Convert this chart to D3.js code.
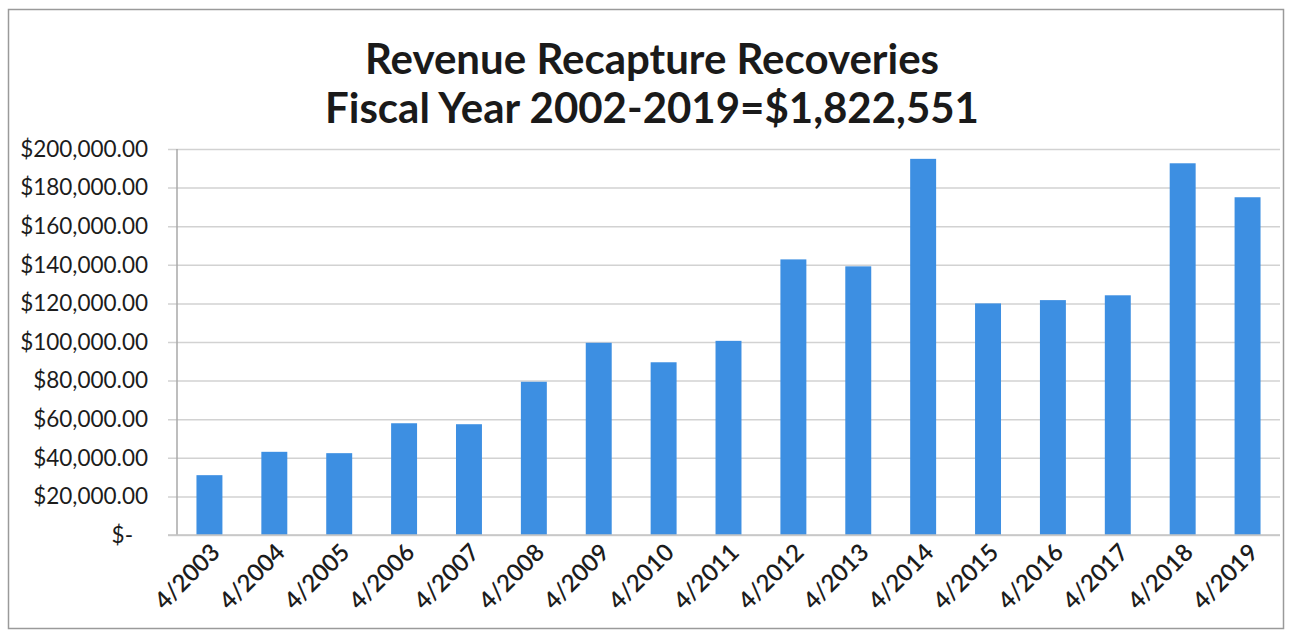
<!DOCTYPE html>
<html lang="en">
<head>
<meta charset="UTF-8">
<title>Revenue Recapture Recoveries</title>
<script src="https://cdn.jsdelivr.net/npm/d3@7"></script>
<style>
  body { margin: 0; background: #fff; }
  text { font-family: Lato, "Open Sans", sans-serif; fill: #1c1c1c; }
</style>
</head>
<body>
<script>

var w = 1289;
var h = 631;

// data
var years = ["4/2003", "4/2004", "4/2005", "4/2006", "4/2007", "4/2008", "4/2009", "4/2010", "4/2011",
             "4/2012", "4/2013", "4/2014", "4/2015", "4/2016", "4/2017", "4/2018", "4/2019"];
var recoveries = [31000, 43100, 42400, 57900, 57400, 79400, 99600, 89500, 100600,
                  142800, 139200, 194900, 120000, 121700, 124200, 192600, 175000];
var yTicks = [0, 20000, 40000, 60000, 80000, 100000, 120000, 140000, 160000, 180000, 200000];
var titleLines = ["Revenue Recapture Recoveries", "Fiscal Year 2002-2019=$1,822,551"];

var margin = {top: 149, right: 9, bottom: 96, left: 177};

var svg = d3.select("body")
    .append("svg")
    .attr("width", w)
    .attr("height", h);

// outer frame
svg.append("rect")
    .attr("x", 8.5)
    .attr("y", 9.5)
    .attr("width", w - 14)
    .attr("height", h - 12)
    .attr("fill", "none")
    .attr("stroke", "#9a9a9a")
    .attr("stroke-width", 1.5);

var x = d3.scaleBand()
    .domain(years)
    .range([margin.left, w - margin.right])
    .paddingInner(0.6)
    .paddingOuter(0.3);

var y = d3.scaleLinear()
    .domain([0, 200000])
    .range([h - margin.bottom, margin.top]);

// gridlines + y labels
var yAxis = d3.axisLeft(y)
    .tickValues(yTicks)
    .tickSize(-(w - margin.right - margin.left))
    .tickPadding(29)
    .tickFormat(function(d) { return d === 0 ? "$-" : d3.format("$,.2f")(d); });

var gy = svg.append("g")
    .attr("transform", "translate(" + margin.left + ",0)")
    .call(yAxis);

gy.select(".domain").remove();
gy.selectAll(".tick line")
    .attr("x1", -9)
    .attr("stroke", "#d2d2d2")
    .attr("stroke-width", 1.5);
gy.selectAll(".tick text")
    .attr("font-size", 22.5)
    .attr("fill", "#1c1c1c")
    .attr("dx", function(d) { return d === 0 ? -15 : 0; });

// left axis line
svg.append("line")
    .attr("x1", margin.left)
    .attr("x2", margin.left)
    .attr("y1", y(200000))
    .attr("y2", y(0))
    .attr("stroke", "#a8a8a8")
    .attr("stroke-width", 1.5);

// bars
svg.selectAll("rect.bar")
    .data(recoveries)
    .enter()
    .append("rect")
    .attr("class", "bar")
    .attr("x", function(d, i) { return x(years[i]); })
    .attr("y", function(d) { return y(d); })
    .attr("width", x.bandwidth())
    .attr("height", function(d) { return y(0) - y(d); })
    .attr("fill", "#3d8fe2");

// baseline
svg.append("line")
    .attr("x1", margin.left - 9)
    .attr("x2", w - margin.right)
    .attr("y1", y(0))
    .attr("y2", y(0))
    .attr("stroke", "#c4c4c4")
    .attr("stroke-width", 1.5);

// x labels, rotated
var xAxis = d3.axisBottom(x).tickSize(0).tickPadding(0);
var gx = svg.append("g")
    .attr("transform", "translate(0," + y(0) + ")")
    .call(xAxis);
gx.select(".domain").remove();
gx.selectAll(".tick text")
    .attr("font-size", 24)
    .attr("font-weight", 600)
    .attr("fill", "#1c1c1c")
    .attr("text-anchor", "end")
    .attr("dy", 0)
    .attr("transform", "translate(12,19) rotate(-45)");

// title
svg.selectAll("text.title")
    .data(titleLines)
    .enter()
    .append("text")
    .attr("class", "title")
    .attr("x", 652)
    .attr("y", function(d, i) { return 74 + i * 49; })
    .attr("text-anchor", "middle")
    .attr("font-size", 42)
    .attr("font-weight", "bold")
    .style("fill", "#1a1a1a")
    .text(function(d) { return d; });

</script>
</body>
</html>
